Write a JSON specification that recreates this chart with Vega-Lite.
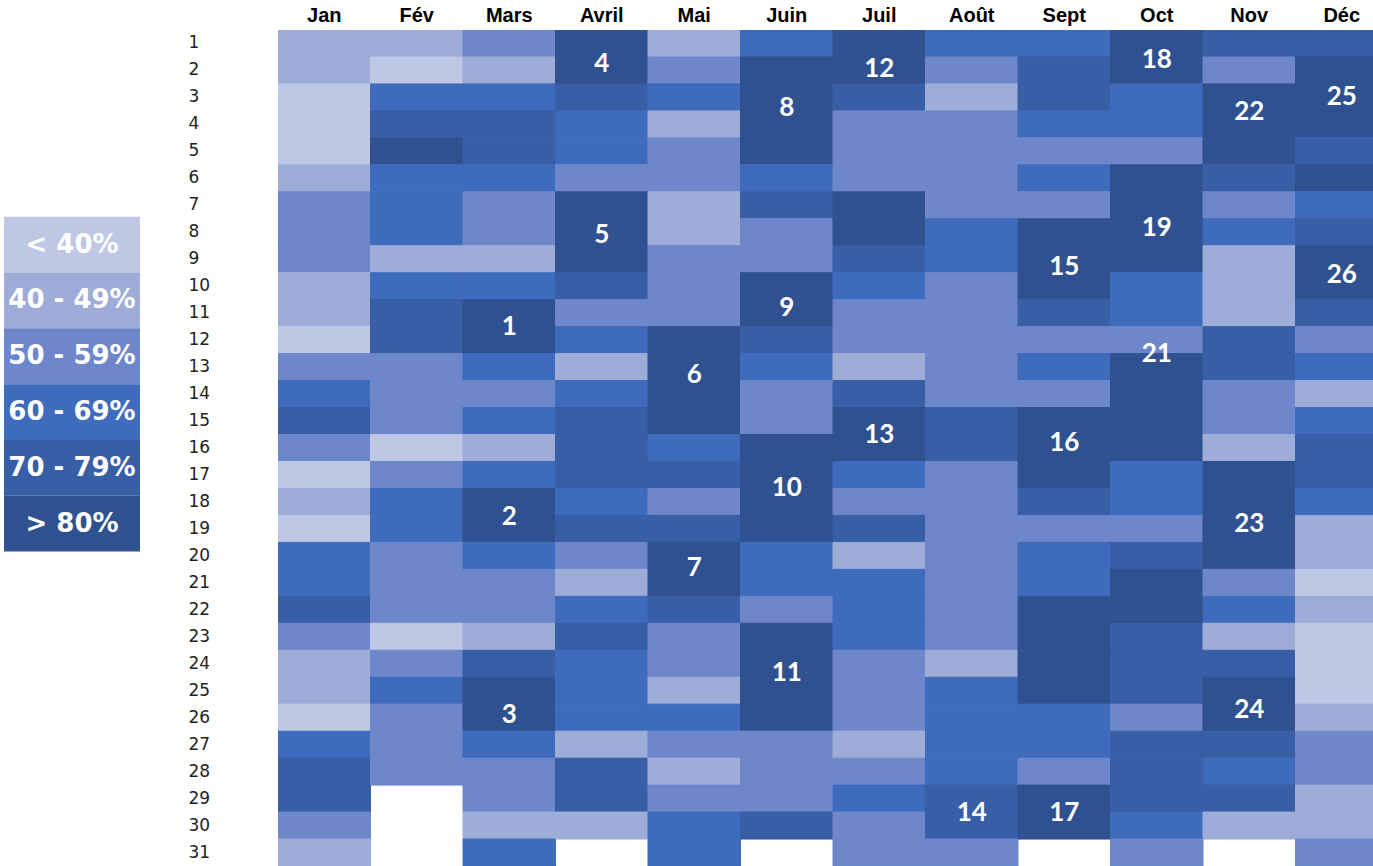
{
  "$schema": "https://vega.github.io/schema/vega-lite/v6.json",
  "background": "white",
  "padding": {"left": 4, "top": 5, "right": 0, "bottom": 0},
  "bounds": "flush",
  "spacing": 138,
  "config": {"view": {"stroke": null}},
  "datasets": {
    "bands": [
      {"c": "< 40%"}, {"c": "40 - 49%"}, {"c": "50 - 59%"},
      {"c": "60 - 69%"}, {"c": "70 - 79%"}, {"c": "> 80%"}
    ],
    "streaks": [
      {"m": "Mars", "pos": 11.5, "n": "1"},
      {"m": "Mars", "pos": 18.55, "n": "2"},
      {"m": "Mars", "pos": 25.9, "n": "3"},
      {"m": "Avril", "pos": 1.75, "n": "4"},
      {"m": "Avril", "pos": 8.1, "n": "5"},
      {"m": "Mai", "pos": 13.3, "n": "6"},
      {"m": "Mai", "pos": 20.45, "n": "7"},
      {"m": "Juin", "pos": 3.4, "n": "8"},
      {"m": "Juin", "pos": 10.8, "n": "9"},
      {"m": "Juin", "pos": 17.5, "n": "10"},
      {"m": "Juin", "pos": 24.35, "n": "11"},
      {"m": "Juil", "pos": 1.95, "n": "12"},
      {"m": "Juil", "pos": 15.5, "n": "13"},
      {"m": "Août", "pos": 29.55, "n": "14"},
      {"m": "Sept", "pos": 9.3, "n": "15"},
      {"m": "Sept", "pos": 15.8, "n": "16"},
      {"m": "Sept", "pos": 29.55, "n": "17"},
      {"m": "Oct", "pos": 1.6, "n": "18"},
      {"m": "Oct", "pos": 7.85, "n": "19"},
      {"m": "Oct", "pos": 12.5, "n": "21"},
      {"m": "Nov", "pos": 3.55, "n": "22"},
      {"m": "Nov", "pos": 18.8, "n": "23"},
      {"m": "Nov", "pos": 25.7, "n": "24"},
      {"m": "Déc", "pos": 3.0, "n": "25"},
      {"m": "Déc", "pos": 9.6, "n": "26"}
    ],
    "days": [
      {"m": "Jan", "d": 1, "c": "40 - 49%"}, {"m": "Jan", "d": 2, "c": "40 - 49%"}, {"m": "Jan", "d": 3, "c": "< 40%"}, {"m": "Jan", "d": 4, "c": "< 40%"}, {"m": "Jan", "d": 5, "c": "< 40%"},
      {"m": "Jan", "d": 6, "c": "40 - 49%"}, {"m": "Jan", "d": 7, "c": "50 - 59%"}, {"m": "Jan", "d": 8, "c": "50 - 59%"}, {"m": "Jan", "d": 9, "c": "50 - 59%"}, {"m": "Jan", "d": 10, "c": "40 - 49%"},
      {"m": "Jan", "d": 11, "c": "40 - 49%"}, {"m": "Jan", "d": 12, "c": "< 40%"}, {"m": "Jan", "d": 13, "c": "50 - 59%"}, {"m": "Jan", "d": 14, "c": "60 - 69%"}, {"m": "Jan", "d": 15, "c": "70 - 79%"},
      {"m": "Jan", "d": 16, "c": "50 - 59%"}, {"m": "Jan", "d": 17, "c": "< 40%"}, {"m": "Jan", "d": 18, "c": "40 - 49%"}, {"m": "Jan", "d": 19, "c": "< 40%"}, {"m": "Jan", "d": 20, "c": "60 - 69%"},
      {"m": "Jan", "d": 21, "c": "60 - 69%"}, {"m": "Jan", "d": 22, "c": "70 - 79%"}, {"m": "Jan", "d": 23, "c": "50 - 59%"}, {"m": "Jan", "d": 24, "c": "40 - 49%"}, {"m": "Jan", "d": 25, "c": "40 - 49%"},
      {"m": "Jan", "d": 26, "c": "< 40%"}, {"m": "Jan", "d": 27, "c": "60 - 69%"}, {"m": "Jan", "d": 28, "c": "70 - 79%"}, {"m": "Jan", "d": 29, "c": "70 - 79%"}, {"m": "Jan", "d": 30, "c": "50 - 59%"},
      {"m": "Jan", "d": 31, "c": "40 - 49%"},

      {"m": "Fév", "d": 1, "c": "40 - 49%"}, {"m": "Fév", "d": 2, "c": "< 40%"}, {"m": "Fév", "d": 3, "c": "60 - 69%"}, {"m": "Fév", "d": 4, "c": "70 - 79%"}, {"m": "Fév", "d": 5, "c": "> 80%"},
      {"m": "Fév", "d": 6, "c": "60 - 69%"}, {"m": "Fév", "d": 7, "c": "60 - 69%"}, {"m": "Fév", "d": 8, "c": "60 - 69%"}, {"m": "Fév", "d": 9, "c": "40 - 49%"}, {"m": "Fév", "d": 10, "c": "60 - 69%"},
      {"m": "Fév", "d": 11, "c": "70 - 79%"}, {"m": "Fév", "d": 12, "c": "70 - 79%"}, {"m": "Fév", "d": 13, "c": "50 - 59%"}, {"m": "Fév", "d": 14, "c": "50 - 59%"}, {"m": "Fév", "d": 15, "c": "50 - 59%"},
      {"m": "Fév", "d": 16, "c": "< 40%"}, {"m": "Fév", "d": 17, "c": "50 - 59%"}, {"m": "Fév", "d": 18, "c": "60 - 69%"}, {"m": "Fév", "d": 19, "c": "60 - 69%"}, {"m": "Fév", "d": 20, "c": "50 - 59%"},
      {"m": "Fév", "d": 21, "c": "50 - 59%"}, {"m": "Fév", "d": 22, "c": "50 - 59%"}, {"m": "Fév", "d": 23, "c": "< 40%"}, {"m": "Fév", "d": 24, "c": "50 - 59%"}, {"m": "Fév", "d": 25, "c": "60 - 69%"},
      {"m": "Fév", "d": 26, "c": "50 - 59%"}, {"m": "Fév", "d": 27, "c": "50 - 59%"}, {"m": "Fév", "d": 28, "c": "50 - 59%"},

      {"m": "Mars", "d": 1, "c": "50 - 59%"}, {"m": "Mars", "d": 2, "c": "40 - 49%"}, {"m": "Mars", "d": 3, "c": "60 - 69%"}, {"m": "Mars", "d": 4, "c": "70 - 79%"}, {"m": "Mars", "d": 5, "c": "70 - 79%"},
      {"m": "Mars", "d": 6, "c": "60 - 69%"}, {"m": "Mars", "d": 7, "c": "50 - 59%"}, {"m": "Mars", "d": 8, "c": "50 - 59%"}, {"m": "Mars", "d": 9, "c": "40 - 49%"}, {"m": "Mars", "d": 10, "c": "60 - 69%"},
      {"m": "Mars", "d": 11, "c": "> 80%"}, {"m": "Mars", "d": 12, "c": "> 80%"}, {"m": "Mars", "d": 13, "c": "60 - 69%"}, {"m": "Mars", "d": 14, "c": "50 - 59%"}, {"m": "Mars", "d": 15, "c": "60 - 69%"},
      {"m": "Mars", "d": 16, "c": "40 - 49%"}, {"m": "Mars", "d": 17, "c": "60 - 69%"}, {"m": "Mars", "d": 18, "c": "> 80%"}, {"m": "Mars", "d": 19, "c": "> 80%"}, {"m": "Mars", "d": 20, "c": "60 - 69%"},
      {"m": "Mars", "d": 21, "c": "50 - 59%"}, {"m": "Mars", "d": 22, "c": "50 - 59%"}, {"m": "Mars", "d": 23, "c": "40 - 49%"}, {"m": "Mars", "d": 24, "c": "70 - 79%"}, {"m": "Mars", "d": 25, "c": "> 80%"},
      {"m": "Mars", "d": 26, "c": "> 80%"}, {"m": "Mars", "d": 27, "c": "60 - 69%"}, {"m": "Mars", "d": 28, "c": "50 - 59%"}, {"m": "Mars", "d": 29, "c": "50 - 59%"}, {"m": "Mars", "d": 30, "c": "40 - 49%"},
      {"m": "Mars", "d": 31, "c": "60 - 69%"},

      {"m": "Avril", "d": 1, "c": "> 80%"}, {"m": "Avril", "d": 2, "c": "> 80%"}, {"m": "Avril", "d": 3, "c": "70 - 79%"}, {"m": "Avril", "d": 4, "c": "60 - 69%"}, {"m": "Avril", "d": 5, "c": "60 - 69%"},
      {"m": "Avril", "d": 6, "c": "50 - 59%"}, {"m": "Avril", "d": 7, "c": "> 80%"}, {"m": "Avril", "d": 8, "c": "> 80%"}, {"m": "Avril", "d": 9, "c": "> 80%"}, {"m": "Avril", "d": 10, "c": "70 - 79%"},
      {"m": "Avril", "d": 11, "c": "50 - 59%"}, {"m": "Avril", "d": 12, "c": "60 - 69%"}, {"m": "Avril", "d": 13, "c": "40 - 49%"}, {"m": "Avril", "d": 14, "c": "60 - 69%"}, {"m": "Avril", "d": 15, "c": "70 - 79%"},
      {"m": "Avril", "d": 16, "c": "70 - 79%"}, {"m": "Avril", "d": 17, "c": "70 - 79%"}, {"m": "Avril", "d": 18, "c": "60 - 69%"}, {"m": "Avril", "d": 19, "c": "70 - 79%"}, {"m": "Avril", "d": 20, "c": "50 - 59%"},
      {"m": "Avril", "d": 21, "c": "40 - 49%"}, {"m": "Avril", "d": 22, "c": "60 - 69%"}, {"m": "Avril", "d": 23, "c": "70 - 79%"}, {"m": "Avril", "d": 24, "c": "60 - 69%"}, {"m": "Avril", "d": 25, "c": "60 - 69%"},
      {"m": "Avril", "d": 26, "c": "60 - 69%"}, {"m": "Avril", "d": 27, "c": "40 - 49%"}, {"m": "Avril", "d": 28, "c": "70 - 79%"}, {"m": "Avril", "d": 29, "c": "70 - 79%"}, {"m": "Avril", "d": 30, "c": "40 - 49%"},

      {"m": "Mai", "d": 1, "c": "40 - 49%"}, {"m": "Mai", "d": 2, "c": "50 - 59%"}, {"m": "Mai", "d": 3, "c": "60 - 69%"}, {"m": "Mai", "d": 4, "c": "40 - 49%"}, {"m": "Mai", "d": 5, "c": "50 - 59%"},
      {"m": "Mai", "d": 6, "c": "50 - 59%"}, {"m": "Mai", "d": 7, "c": "40 - 49%"}, {"m": "Mai", "d": 8, "c": "40 - 49%"}, {"m": "Mai", "d": 9, "c": "50 - 59%"}, {"m": "Mai", "d": 10, "c": "50 - 59%"},
      {"m": "Mai", "d": 11, "c": "50 - 59%"}, {"m": "Mai", "d": 12, "c": "> 80%"}, {"m": "Mai", "d": 13, "c": "> 80%"}, {"m": "Mai", "d": 14, "c": "> 80%"}, {"m": "Mai", "d": 15, "c": "> 80%"},
      {"m": "Mai", "d": 16, "c": "60 - 69%"}, {"m": "Mai", "d": 17, "c": "70 - 79%"}, {"m": "Mai", "d": 18, "c": "50 - 59%"}, {"m": "Mai", "d": 19, "c": "70 - 79%"}, {"m": "Mai", "d": 20, "c": "> 80%"},
      {"m": "Mai", "d": 21, "c": "> 80%"}, {"m": "Mai", "d": 22, "c": "70 - 79%"}, {"m": "Mai", "d": 23, "c": "50 - 59%"}, {"m": "Mai", "d": 24, "c": "50 - 59%"}, {"m": "Mai", "d": 25, "c": "40 - 49%"},
      {"m": "Mai", "d": 26, "c": "60 - 69%"}, {"m": "Mai", "d": 27, "c": "50 - 59%"}, {"m": "Mai", "d": 28, "c": "40 - 49%"}, {"m": "Mai", "d": 29, "c": "50 - 59%"}, {"m": "Mai", "d": 30, "c": "60 - 69%"},
      {"m": "Mai", "d": 31, "c": "60 - 69%"},

      {"m": "Juin", "d": 1, "c": "60 - 69%"}, {"m": "Juin", "d": 2, "c": "> 80%"}, {"m": "Juin", "d": 3, "c": "> 80%"}, {"m": "Juin", "d": 4, "c": "> 80%"}, {"m": "Juin", "d": 5, "c": "> 80%"},
      {"m": "Juin", "d": 6, "c": "60 - 69%"}, {"m": "Juin", "d": 7, "c": "70 - 79%"}, {"m": "Juin", "d": 8, "c": "50 - 59%"}, {"m": "Juin", "d": 9, "c": "50 - 59%"}, {"m": "Juin", "d": 10, "c": "> 80%"},
      {"m": "Juin", "d": 11, "c": "> 80%"}, {"m": "Juin", "d": 12, "c": "70 - 79%"}, {"m": "Juin", "d": 13, "c": "60 - 69%"}, {"m": "Juin", "d": 14, "c": "50 - 59%"}, {"m": "Juin", "d": 15, "c": "50 - 59%"},
      {"m": "Juin", "d": 16, "c": "> 80%"}, {"m": "Juin", "d": 17, "c": "> 80%"}, {"m": "Juin", "d": 18, "c": "> 80%"}, {"m": "Juin", "d": 19, "c": "> 80%"}, {"m": "Juin", "d": 20, "c": "60 - 69%"},
      {"m": "Juin", "d": 21, "c": "60 - 69%"}, {"m": "Juin", "d": 22, "c": "50 - 59%"}, {"m": "Juin", "d": 23, "c": "> 80%"}, {"m": "Juin", "d": 24, "c": "> 80%"}, {"m": "Juin", "d": 25, "c": "> 80%"},
      {"m": "Juin", "d": 26, "c": "> 80%"}, {"m": "Juin", "d": 27, "c": "50 - 59%"}, {"m": "Juin", "d": 28, "c": "50 - 59%"}, {"m": "Juin", "d": 29, "c": "50 - 59%"}, {"m": "Juin", "d": 30, "c": "70 - 79%"},

      {"m": "Juil", "d": 1, "c": "> 80%"}, {"m": "Juil", "d": 2, "c": "> 80%"}, {"m": "Juil", "d": 3, "c": "70 - 79%"}, {"m": "Juil", "d": 4, "c": "50 - 59%"}, {"m": "Juil", "d": 5, "c": "50 - 59%"},
      {"m": "Juil", "d": 6, "c": "50 - 59%"}, {"m": "Juil", "d": 7, "c": "> 80%"}, {"m": "Juil", "d": 8, "c": "> 80%"}, {"m": "Juil", "d": 9, "c": "70 - 79%"}, {"m": "Juil", "d": 10, "c": "60 - 69%"},
      {"m": "Juil", "d": 11, "c": "50 - 59%"}, {"m": "Juil", "d": 12, "c": "50 - 59%"}, {"m": "Juil", "d": 13, "c": "40 - 49%"}, {"m": "Juil", "d": 14, "c": "70 - 79%"}, {"m": "Juil", "d": 15, "c": "> 80%"},
      {"m": "Juil", "d": 16, "c": "> 80%"}, {"m": "Juil", "d": 17, "c": "60 - 69%"}, {"m": "Juil", "d": 18, "c": "50 - 59%"}, {"m": "Juil", "d": 19, "c": "70 - 79%"}, {"m": "Juil", "d": 20, "c": "40 - 49%"},
      {"m": "Juil", "d": 21, "c": "60 - 69%"}, {"m": "Juil", "d": 22, "c": "60 - 69%"}, {"m": "Juil", "d": 23, "c": "60 - 69%"}, {"m": "Juil", "d": 24, "c": "50 - 59%"}, {"m": "Juil", "d": 25, "c": "50 - 59%"},
      {"m": "Juil", "d": 26, "c": "50 - 59%"}, {"m": "Juil", "d": 27, "c": "40 - 49%"}, {"m": "Juil", "d": 28, "c": "50 - 59%"}, {"m": "Juil", "d": 29, "c": "60 - 69%"}, {"m": "Juil", "d": 30, "c": "50 - 59%"},
      {"m": "Juil", "d": 31, "c": "50 - 59%"},

      {"m": "Août", "d": 1, "c": "60 - 69%"}, {"m": "Août", "d": 2, "c": "50 - 59%"}, {"m": "Août", "d": 3, "c": "40 - 49%"}, {"m": "Août", "d": 4, "c": "50 - 59%"}, {"m": "Août", "d": 5, "c": "50 - 59%"},
      {"m": "Août", "d": 6, "c": "50 - 59%"}, {"m": "Août", "d": 7, "c": "50 - 59%"}, {"m": "Août", "d": 8, "c": "60 - 69%"}, {"m": "Août", "d": 9, "c": "60 - 69%"}, {"m": "Août", "d": 10, "c": "50 - 59%"},
      {"m": "Août", "d": 11, "c": "50 - 59%"}, {"m": "Août", "d": 12, "c": "50 - 59%"}, {"m": "Août", "d": 13, "c": "50 - 59%"}, {"m": "Août", "d": 14, "c": "50 - 59%"}, {"m": "Août", "d": 15, "c": "70 - 79%"},
      {"m": "Août", "d": 16, "c": "70 - 79%"}, {"m": "Août", "d": 17, "c": "50 - 59%"}, {"m": "Août", "d": 18, "c": "50 - 59%"}, {"m": "Août", "d": 19, "c": "50 - 59%"}, {"m": "Août", "d": 20, "c": "50 - 59%"},
      {"m": "Août", "d": 21, "c": "50 - 59%"}, {"m": "Août", "d": 22, "c": "50 - 59%"}, {"m": "Août", "d": 23, "c": "50 - 59%"}, {"m": "Août", "d": 24, "c": "40 - 49%"}, {"m": "Août", "d": 25, "c": "60 - 69%"},
      {"m": "Août", "d": 26, "c": "60 - 69%"}, {"m": "Août", "d": 27, "c": "60 - 69%"}, {"m": "Août", "d": 28, "c": "60 - 69%"}, {"m": "Août", "d": 29, "c": "70 - 79%"}, {"m": "Août", "d": 30, "c": "70 - 79%"},
      {"m": "Août", "d": 31, "c": "50 - 59%"},

      {"m": "Sept", "d": 1, "c": "60 - 69%"}, {"m": "Sept", "d": 2, "c": "70 - 79%"}, {"m": "Sept", "d": 3, "c": "70 - 79%"}, {"m": "Sept", "d": 4, "c": "60 - 69%"}, {"m": "Sept", "d": 5, "c": "50 - 59%"},
      {"m": "Sept", "d": 6, "c": "60 - 69%"}, {"m": "Sept", "d": 7, "c": "50 - 59%"}, {"m": "Sept", "d": 8, "c": "> 80%"}, {"m": "Sept", "d": 9, "c": "> 80%"}, {"m": "Sept", "d": 10, "c": "> 80%"},
      {"m": "Sept", "d": 11, "c": "70 - 79%"}, {"m": "Sept", "d": 12, "c": "50 - 59%"}, {"m": "Sept", "d": 13, "c": "60 - 69%"}, {"m": "Sept", "d": 14, "c": "50 - 59%"}, {"m": "Sept", "d": 15, "c": "> 80%"},
      {"m": "Sept", "d": 16, "c": "> 80%"}, {"m": "Sept", "d": 17, "c": "> 80%"}, {"m": "Sept", "d": 18, "c": "70 - 79%"}, {"m": "Sept", "d": 19, "c": "50 - 59%"}, {"m": "Sept", "d": 20, "c": "60 - 69%"},
      {"m": "Sept", "d": 21, "c": "60 - 69%"}, {"m": "Sept", "d": 22, "c": "> 80%"}, {"m": "Sept", "d": 23, "c": "> 80%"}, {"m": "Sept", "d": 24, "c": "> 80%"}, {"m": "Sept", "d": 25, "c": "> 80%"},
      {"m": "Sept", "d": 26, "c": "60 - 69%"}, {"m": "Sept", "d": 27, "c": "60 - 69%"}, {"m": "Sept", "d": 28, "c": "50 - 59%"}, {"m": "Sept", "d": 29, "c": "> 80%"}, {"m": "Sept", "d": 30, "c": "> 80%"},

      {"m": "Oct", "d": 1, "c": "> 80%"}, {"m": "Oct", "d": 2, "c": "> 80%"}, {"m": "Oct", "d": 3, "c": "60 - 69%"}, {"m": "Oct", "d": 4, "c": "60 - 69%"}, {"m": "Oct", "d": 5, "c": "50 - 59%"},
      {"m": "Oct", "d": 6, "c": "> 80%"}, {"m": "Oct", "d": 7, "c": "> 80%"}, {"m": "Oct", "d": 8, "c": "> 80%"}, {"m": "Oct", "d": 9, "c": "> 80%"}, {"m": "Oct", "d": 10, "c": "60 - 69%"},
      {"m": "Oct", "d": 11, "c": "60 - 69%"}, {"m": "Oct", "d": 12, "c": "50 - 59%"}, {"m": "Oct", "d": 13, "c": "> 80%"}, {"m": "Oct", "d": 14, "c": "> 80%"}, {"m": "Oct", "d": 15, "c": "> 80%"},
      {"m": "Oct", "d": 16, "c": "> 80%"}, {"m": "Oct", "d": 17, "c": "60 - 69%"}, {"m": "Oct", "d": 18, "c": "60 - 69%"}, {"m": "Oct", "d": 19, "c": "50 - 59%"}, {"m": "Oct", "d": 20, "c": "70 - 79%"},
      {"m": "Oct", "d": 21, "c": "> 80%"}, {"m": "Oct", "d": 22, "c": "> 80%"}, {"m": "Oct", "d": 23, "c": "70 - 79%"}, {"m": "Oct", "d": 24, "c": "70 - 79%"}, {"m": "Oct", "d": 25, "c": "70 - 79%"},
      {"m": "Oct", "d": 26, "c": "50 - 59%"}, {"m": "Oct", "d": 27, "c": "70 - 79%"}, {"m": "Oct", "d": 28, "c": "70 - 79%"}, {"m": "Oct", "d": 29, "c": "70 - 79%"}, {"m": "Oct", "d": 30, "c": "60 - 69%"},
      {"m": "Oct", "d": 31, "c": "50 - 59%"},

      {"m": "Nov", "d": 1, "c": "70 - 79%"}, {"m": "Nov", "d": 2, "c": "50 - 59%"}, {"m": "Nov", "d": 3, "c": "> 80%"}, {"m": "Nov", "d": 4, "c": "> 80%"}, {"m": "Nov", "d": 5, "c": "> 80%"},
      {"m": "Nov", "d": 6, "c": "70 - 79%"}, {"m": "Nov", "d": 7, "c": "50 - 59%"}, {"m": "Nov", "d": 8, "c": "60 - 69%"}, {"m": "Nov", "d": 9, "c": "40 - 49%"}, {"m": "Nov", "d": 10, "c": "40 - 49%"},
      {"m": "Nov", "d": 11, "c": "40 - 49%"}, {"m": "Nov", "d": 12, "c": "70 - 79%"}, {"m": "Nov", "d": 13, "c": "70 - 79%"}, {"m": "Nov", "d": 14, "c": "50 - 59%"}, {"m": "Nov", "d": 15, "c": "50 - 59%"},
      {"m": "Nov", "d": 16, "c": "40 - 49%"}, {"m": "Nov", "d": 17, "c": "> 80%"}, {"m": "Nov", "d": 18, "c": "> 80%"}, {"m": "Nov", "d": 19, "c": "> 80%"}, {"m": "Nov", "d": 20, "c": "> 80%"},
      {"m": "Nov", "d": 21, "c": "50 - 59%"}, {"m": "Nov", "d": 22, "c": "60 - 69%"}, {"m": "Nov", "d": 23, "c": "40 - 49%"}, {"m": "Nov", "d": 24, "c": "70 - 79%"}, {"m": "Nov", "d": 25, "c": "> 80%"},
      {"m": "Nov", "d": 26, "c": "> 80%"}, {"m": "Nov", "d": 27, "c": "70 - 79%"}, {"m": "Nov", "d": 28, "c": "60 - 69%"}, {"m": "Nov", "d": 29, "c": "70 - 79%"}, {"m": "Nov", "d": 30, "c": "40 - 49%"},

      {"m": "Déc", "d": 1, "c": "70 - 79%"}, {"m": "Déc", "d": 2, "c": "> 80%"}, {"m": "Déc", "d": 3, "c": "> 80%"}, {"m": "Déc", "d": 4, "c": "> 80%"}, {"m": "Déc", "d": 5, "c": "70 - 79%"},
      {"m": "Déc", "d": 6, "c": "> 80%"}, {"m": "Déc", "d": 7, "c": "60 - 69%"}, {"m": "Déc", "d": 8, "c": "70 - 79%"}, {"m": "Déc", "d": 9, "c": "> 80%"}, {"m": "Déc", "d": 10, "c": "> 80%"},
      {"m": "Déc", "d": 11, "c": "70 - 79%"}, {"m": "Déc", "d": 12, "c": "50 - 59%"}, {"m": "Déc", "d": 13, "c": "60 - 69%"}, {"m": "Déc", "d": 14, "c": "40 - 49%"}, {"m": "Déc", "d": 15, "c": "60 - 69%"},
      {"m": "Déc", "d": 16, "c": "70 - 79%"}, {"m": "Déc", "d": 17, "c": "70 - 79%"}, {"m": "Déc", "d": 18, "c": "60 - 69%"}, {"m": "Déc", "d": 19, "c": "40 - 49%"}, {"m": "Déc", "d": 20, "c": "40 - 49%"},
      {"m": "Déc", "d": 21, "c": "< 40%"}, {"m": "Déc", "d": 22, "c": "40 - 49%"}, {"m": "Déc", "d": 23, "c": "< 40%"}, {"m": "Déc", "d": 24, "c": "< 40%"}, {"m": "Déc", "d": 25, "c": "< 40%"},
      {"m": "Déc", "d": 26, "c": "40 - 49%"}, {"m": "Déc", "d": 27, "c": "50 - 59%"}, {"m": "Déc", "d": 28, "c": "50 - 59%"}, {"m": "Déc", "d": 29, "c": "40 - 49%"}, {"m": "Déc", "d": 30, "c": "40 - 49%"},
      {"m": "Déc", "d": 31, "c": "50 - 59%"}
    ]
  },
  "hconcat": [
    {
      "width": 136,
      "height": 836,
      "data": {"name": "bands"},
      "encoding": {
        "y": {
          "field": "c",
          "type": "nominal",
          "scale": {
            "domain": ["top1", "top2", "< 40%", "40 - 49%", "50 - 59%", "60 - 69%", "70 - 79%", "> 80%", "bot1", "bot2", "bot3", "bot4", "bot5"],
            "paddingInner": 0,
            "paddingOuter": 0.99,
            "align": 0.68
          },
          "axis": null
        }
      },
      "layer": [
        {
          "mark": {"type": "rect"},
          "encoding": {
            "x": {"datum": 0, "type": "quantitative", "scale": {"domain": [0, 1], "nice": false}, "axis": null},
            "x2": {"datum": 1},
            "color": {
              "field": "c",
              "type": "nominal",
              "scale": {
                "domain": ["< 40%", "40 - 49%", "50 - 59%", "60 - 69%", "70 - 79%", "> 80%"],
                "range": ["#bec8e4", "#9eacd8", "#6d87ca", "#3e6bbb", "#385ea6", "#30518f"]
              },
              "legend": null
            }
          }
        },
        {
          "mark": {"type": "text", "font": "DejaVu Sans", "fontWeight": "bold", "fontSize": 26, "color": "white", "align": "center", "baseline": "middle"},
          "encoding": {
            "x": {"datum": 0.5, "type": "quantitative"},
            "text": {"field": "c"}
          }
        }
      ]
    },
    {
      "width": 1095,
      "height": 836,
      "layer": [
        {
          "data": {"name": "days"},
          "mark": {"type": "rect", "clip": true, "strokeWidth": 1},
          "encoding": {
            "x": {
              "field": "m",
              "type": "nominal",
              "scale": {
                "domain": ["Jan", "Fév", "Mars", "Avril", "Mai", "Juin", "Juil", "Août", "Sept", "Oct", "Nov", "Déc"],
                "range": [0, 1110],
                "paddingInner": 0,
                "paddingOuter": 0
              },
              "axis": {
                "orient": "top",
                "title": null,
                "domain": false,
                "ticks": false,
                "tickSize": 0,
                "labelPadding": 5,
                "labelAngle": 0,
                "labelFont": "Liberation Sans",
                "labelFontWeight": "bold",
                "labelFontSize": 20,
                "labelColor": "#000"
              }
            },
            "y": {
              "field": "d",
              "type": "ordinal",
              "scale": {"paddingInner": 0, "paddingOuter": 0},
              "axis": {
                "title": null,
                "domain": false,
                "ticks": false,
                "tickSize": 0,
                "labelAlign": "left",
                "labelBaseline": "middle",
                "labelPadding": 90,
                "labelFont": "DejaVu Sans",
                "labelFontSize": 17,
                "labelColor": "#222"
              }
            },
            "color": {
              "field": "c",
              "type": "nominal",
              "scale": {
                "domain": ["< 40%", "40 - 49%", "50 - 59%", "60 - 69%", "70 - 79%", "> 80%"],
                "range": ["#bec8e4", "#9eacd8", "#6d87ca", "#3e6bbb", "#385ea6", "#30518f"]
              },
              "legend": null
            },
            "stroke": {
              "field": "c",
              "type": "nominal",
              "scale": {
                "domain": ["< 40%", "40 - 49%", "50 - 59%", "60 - 69%", "70 - 79%", "> 80%"],
                "range": ["#bec8e4", "#9eacd8", "#6d87ca", "#3e6bbb", "#385ea6", "#30518f"]
              },
              "legend": null
            }
          }
        },
        {
          "data": {"name": "streaks"},
          "mark": {"type": "text", "font": "Lato", "fontWeight": "bold", "fontSize": 26, "color": "white", "align": "center", "baseline": "middle"},
          "encoding": {
            "x": {"field": "m", "type": "nominal"},
            "y": {
              "field": "pos",
              "type": "quantitative",
              "scale": {"domain": [0.5, 31.5], "reverse": true, "nice": false, "zero": false},
              "axis": null
            },
            "text": {"field": "n"}
          }
        }
      ],
      "resolve": {"scale": {"y": "independent"}}
    }
  ]
}
